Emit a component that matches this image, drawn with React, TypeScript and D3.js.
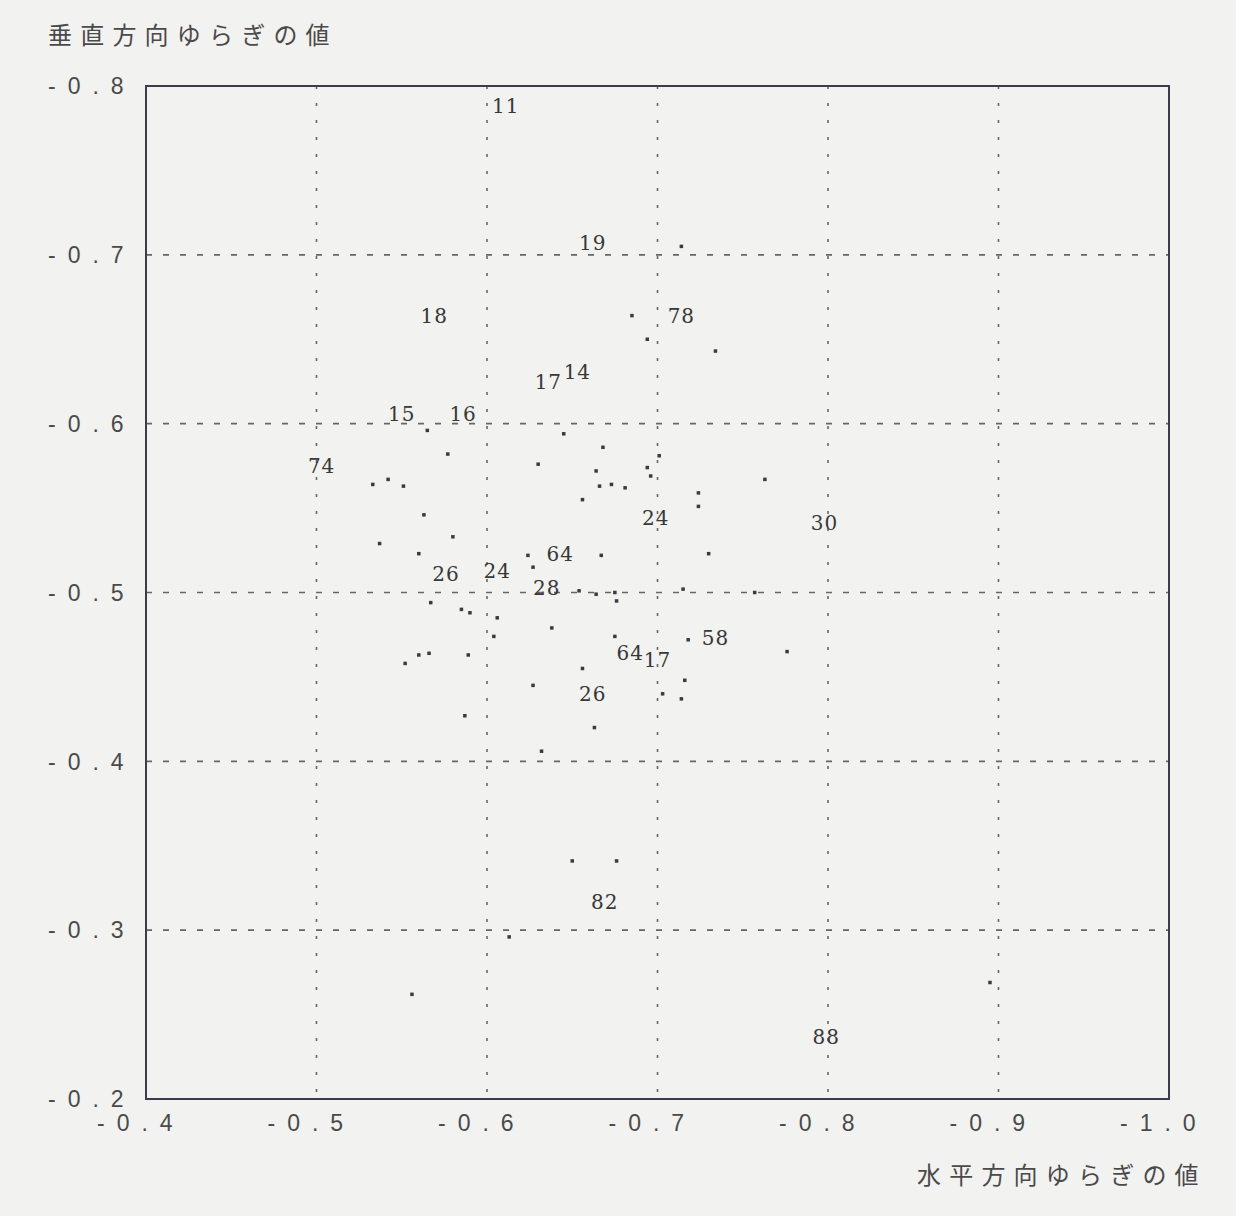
import React from "react";
import * as d3 from "d3";

const xTicks = [-0.4, -0.5, -0.6, -0.7, -0.8, -0.9, -1.0];
const xTickLabels = ["-0.4", "-0.5", "-0.6", "-0.7", "-0.8", "-0.9", "-1.0"];
const yTicks = [-0.8, -0.7, -0.6, -0.5, -0.4, -0.3, -0.2];
const yTickLabels = ["-0.8", "-0.7", "-0.6", "-0.5", "-0.4", "-0.3", "-0.2"];

const xTitle = "水平方向ゆらぎの値";
const yTitle = "垂直方向ゆらぎの値";

// scatter dots (horizontal value, vertical value)
const dotX = [
  -0.714, -0.685, -0.694, -0.734, -0.565, -0.577, -0.645, -0.668, -0.701, -0.630,
  -0.664, -0.694, -0.696, -0.763, -0.533, -0.542, -0.551, -0.666, -0.673, -0.681,
  -0.656, -0.724, -0.724, -0.563, -0.580, -0.537, -0.560, -0.624, -0.627, -0.667,
  -0.730, -0.654, -0.664, -0.675, -0.676, -0.715, -0.757, -0.567, -0.585, -0.590,
  -0.606, -0.604, -0.638, -0.675, -0.718, -0.776, -0.552, -0.560, -0.566, -0.589,
  -0.656, -0.627, -0.716, -0.703, -0.714, -0.587, -0.663, -0.632, -0.650, -0.676,
  -0.613, -0.556, -0.895,
];
const dotY = [
  -0.705, -0.664, -0.650, -0.643, -0.596, -0.582, -0.594, -0.586, -0.581, -0.576,
  -0.572, -0.574, -0.569, -0.567, -0.564, -0.567, -0.563, -0.563, -0.564, -0.562,
  -0.555, -0.559, -0.551, -0.546, -0.533, -0.529, -0.523, -0.522, -0.515, -0.522,
  -0.523, -0.501, -0.499, -0.500, -0.495, -0.502, -0.500, -0.494, -0.490, -0.488,
  -0.485, -0.474, -0.479, -0.474, -0.472, -0.465, -0.458, -0.463, -0.464, -0.463,
  -0.455, -0.445, -0.448, -0.440, -0.437, -0.427, -0.420, -0.406, -0.341, -0.341,
  -0.296, -0.262, -0.269,
];

// number labels written into the plot
const labelText = [
  "11", "19", "18", "78", "17", "14", "15", "16", "74", "24", "30",
  "64", "26", "24", "28", "58", "64", "17", "26", "82", "88",
];
const labelX = [
  -0.611, -0.662, -0.569, -0.714, -0.636, -0.653, -0.550, -0.586, -0.503, -0.699, -0.798,
  -0.643, -0.576, -0.606, -0.635, -0.734, -0.684, -0.700, -0.662, -0.669, -0.799,
];
const labelY = [
  -0.788, -0.707, -0.664, -0.664, -0.625, -0.631, -0.606, -0.606, -0.575, -0.544, -0.541,
  -0.523, -0.511, -0.513, -0.503, -0.473, -0.464, -0.460, -0.440, -0.317, -0.237,
];

const W = 1236;
const H = 1216;

export default function App() {
  const x = d3.scaleLinear().domain([-0.4, -1.0]).range([146, 1169]);
  const y = d3.scaleLinear().domain([-0.8, -0.2]).range([86, 1099]);
  const [x0, x1] = x.range();
  const [y0, y1] = y.range();

  const tickFont = "'Liberation Sans', Arial, sans-serif";
  const cjkFont = "'Noto Sans CJK JP', sans-serif";
  const labelFont = "'DejaVu Serif', 'Liberation Serif', serif";

  return (
    <svg
      width={W}
      height={H}
      style={{ position: "absolute", left: 0, top: 0, display: "block" }}
    >
      <rect x={0} y={0} width={W} height={H} fill="#f2f2f0" />

      {/* vertical grid lines */}
      {xTicks.slice(1, -1).map((t) => (
        <line
          key={"gx" + t}
          x1={x(t)}
          x2={x(t)}
          y1={y0}
          y2={y1}
          stroke="#666"
          strokeWidth={1.6}
          strokeDasharray="3,14"
        />
      ))}
      {/* horizontal grid lines */}
      {yTicks.slice(1, -1).map((t) => (
        <line
          key={"gy" + t}
          x1={x0}
          x2={x1}
          y1={y(t)}
          y2={y(t)}
          stroke="#666"
          strokeWidth={1.6}
          strokeDasharray="6,11"
        />
      ))}

      {/* frame */}
      <rect
        x={x0}
        y={y0}
        width={x1 - x0}
        height={y1 - y0}
        fill="none"
        stroke="#3c3c4e"
        strokeWidth={2}
      />

      {/* dots */}
      {dotX.map((v, i) => (
        <rect
          key={"d" + i}
          x={x(v) - 1.75}
          y={y(dotY[i]) - 1.75}
          width={3.5}
          height={3.5}
          fill="#3a3a44"
        />
      ))}

      {/* number labels */}
      {labelText.map((s, i) => (
        <text
          key={"l" + i}
          x={x(labelX[i])}
          y={y(labelY[i])}
          dy="0.36em"
          textAnchor="middle"
          fontFamily={labelFont}
          fontSize={20}
          letterSpacing={1}
          fill="#383838"
        >
          {s}
        </text>
      ))}

      {/* y tick labels */}
      {yTicks.map((t, i) => (
        <text
          key={"yt" + t}
          x={48}
          y={y(t)}
          dy="0.36em"
          fontFamily={tickFont}
          fontSize={23}
          letterSpacing={12}
          fill="#4a4a4a"
        >
          {yTickLabels[i]}
        </text>
      ))}

      {/* x tick labels */}
      {xTicks.map((t, i) => (
        <text
          key={"xt" + t}
          x={x(t) - 49}
          y={1131}
          fontFamily={tickFont}
          fontSize={23}
          letterSpacing={12}
          fill="#4a4a4a"
        >
          {xTickLabels[i]}
        </text>
      ))}

      {/* axis titles */}
      <text
        x={48}
        y={44}
        fontFamily={cjkFont}
        fontSize={24}
        letterSpacing={8.2}
        fill="#4a4a4a"
      >
        {yTitle}
      </text>
      <text
        x={917}
        y={1184}
        fontFamily={cjkFont}
        fontSize={24}
        letterSpacing={8.2}
        fill="#4a4a4a"
      >
        {xTitle}
      </text>
    </svg>
  );
}
